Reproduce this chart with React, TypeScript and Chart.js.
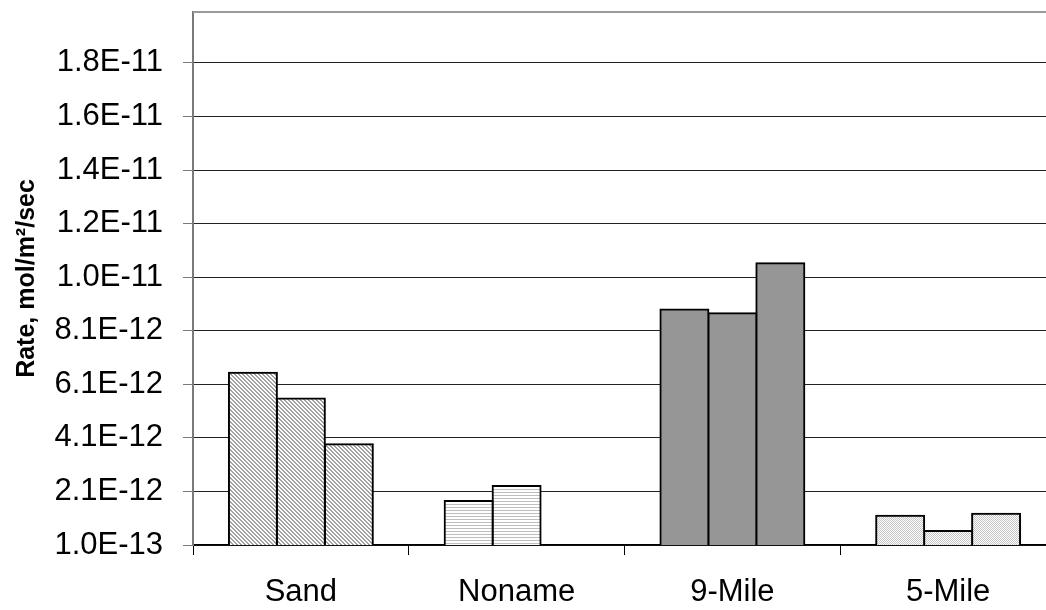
import React, { useEffect, useRef } from 'react';
import { Chart, registerables } from 'chart.js';

Chart.register(...registerables);

const categories = ['Sand', 'Noname', '9-Mile', '5-Mile'];
const run1 = [6.53e-12, 1.74e-12, 8.89e-12, 1.19e-12];
const run2 = [5.57e-12, 2.3e-12, 8.75e-12, 0.62e-12];
const run3 = [3.86e-12, null, 1.062e-11, 1.27e-12];
const yTickValues = [1e-13, 2.1e-12, 4.1e-12, 6.1e-12, 8.1e-12, 1.01e-11, 1.21e-11, 1.41e-11, 1.61e-11, 1.81e-11];
const yMin = 1e-13;
const yMax = 2.0e-11;
const yTitle = 'Rate, mol/m\u00B2/sec';

const FONT = "'Liberation Sans', Arial, sans-serif";

function makePattern(
  ctx: CanvasRenderingContext2D,
  w: number,
  h: number,
  paint: (x: number, y: number) => string | null,
): CanvasPattern | string {
  const c = document.createElement('canvas');
  c.width = w;
  c.height = h;
  const g = c.getContext('2d')!;
  g.fillStyle = '#ffffff';
  g.fillRect(0, 0, w, h);
  for (let y = 0; y < h; y++) {
    for (let x = 0; x < w; x++) {
      const col = paint(x, y);
      if (col) {
        g.fillStyle = col;
        g.fillRect(x, y, 1, 1);
      }
    }
  }
  return ctx.createPattern(c, 'repeat') || '#cccccc';
}

export default function App() {
  const ref = useRef<HTMLCanvasElement | null>(null);

  useEffect(() => {
    document.body.style.margin = '0';
    document.body.style.overflow = 'hidden';
    const canvas = ref.current!;
    const ctx = canvas.getContext('2d')!;

    const sandPat = makePattern(ctx, 4, 4, (x, y) => (((x - y + 8) % 4) < 2 ? '#a0a0a0' : null));
    const nonamePat = makePattern(ctx, 1, 3, (_x, y) => (y === 0 ? '#bdbdbd' : null));
    const milePat = makePattern(ctx, 2, 2, (x, y) => ((x + y) % 2 === 0 ? '#c4c4c4' : null));
    const fills = [sandPat, nonamePat, '#969696', milePat];

    const topBorder = {
      id: 'topBorder',
      afterDraw(chart: any) {
        const { ctx: c, chartArea } = chart;
        c.save();
        c.strokeStyle = '#9a9a9a';
        c.lineWidth = 2;
        c.beginPath();
        c.moveTo(chartArea.left, chartArea.top);
        c.lineTo(chartArea.right, chartArea.top);
        c.stroke();
        c.restore();
      },
    };

    const ds = (data: (number | null)[]) => ({
      data,
      backgroundColor: fills,
      borderColor: '#000000',
      borderWidth: 2,
      inflateAmount: 1,
      categoryPercentage: 0.667,
      barPercentage: 1.0,
    });

    const chart = new Chart(canvas, {
      type: 'bar',
      data: {
        labels: categories,
        datasets: [ds(run1), ds(run2), ds(run3)],
      },
      plugins: [topBorder],
      options: {
        animation: false,
        responsive: false,
        layout: { padding: { left: 0, top: 12, right: 4, bottom: 0 } },
        plugins: {
          legend: { display: false },
          title: { display: false },
          tooltip: { enabled: false },
        },
        scales: {
          x: {
            grid: {
              display: true,
              drawOnChartArea: false,
              offset: true,
              tickLength: 10,
              color: '#000000',
              tickColor: '#000000',
            },
            border: { display: true, color: '#000000', width: 1.5 },
            ticks: {
              color: '#000000',
              padding: 19,
              font: { family: FONT, size: 31 },
              maxRotation: 0,
            },
            afterFit(scale: any) {
              scale.height = 65;
              scale.paddingLeft = 0;
              scale.paddingRight = 0;
            },
          },
          y: {
            min: yMin,
            max: yMax,
            afterBuildTicks(scale: any) {
              scale.ticks = yTickValues.map((v) => ({ value: v }));
            },
            afterFit(scale: any) {
              scale.width = 193;
              scale.paddingTop = 0;
              scale.paddingBottom = 0;
            },
            grid: {
              color: '#222222',
              lineWidth: 1,
              tickLength: 10,
              tickColor: '#7a7a7a',
            },
            border: { display: true, color: '#7a7a7a', width: 2 },
            ticks: {
              color: '#000000',
              padding: 20,
              font: { family: FONT, size: 31 },
              callback: (v: any) => Number(v).toExponential(1).toUpperCase(),
            },
            title: {
              display: true,
              text: yTitle,
              color: '#000000',
              font: { family: FONT, size: 25, weight: 'bold' },
              padding: { top: 12, bottom: 0 },
            },
          },
        },
      },
    });

    return () => chart.destroy();
  }, []);

  return (
    <div style={{ position: 'relative', width: 1060, height: 610 }}>
      <canvas ref={ref} width={1060} height={610} style={{ display: 'block' }} />
    </div>
  );
}
